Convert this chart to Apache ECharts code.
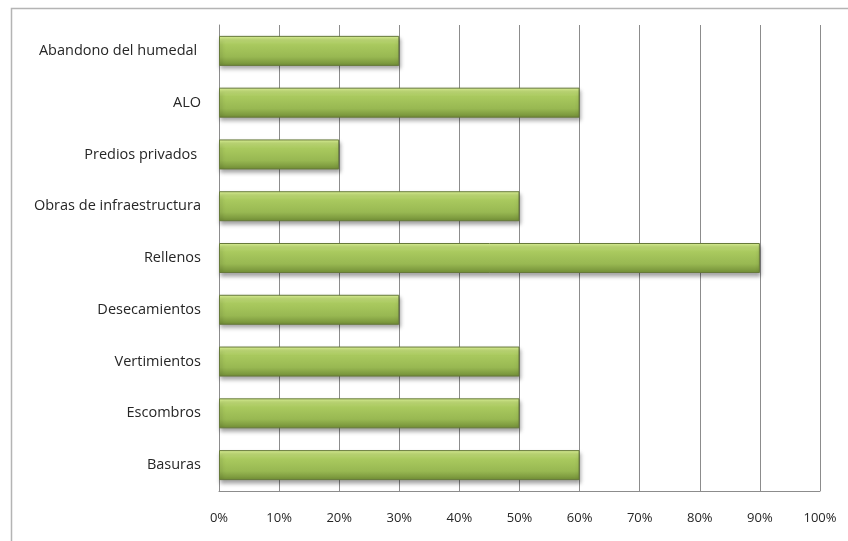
<!DOCTYPE html>
<html>
<head>
<meta charset="utf-8">
<script src="https://cdn.jsdelivr.net/npm/echarts@6/dist/echarts.min.js"></script>
<style>
  html, body { margin: 0; padding: 0; background: #fff; }
  #chart { width: 848px; height: 541px; }
</style>
</head>
<body>
<div id="chart"></div>
<script>
// Causes of wetland deterioration, share of responses (%)
const categories = [
  'Abandono del humedal ',
  'ALO',
  'Predios privados ',
  'Obras de infraestructura',
  'Rellenos',
  'Desecamientos',
  'Vertimientos',
  'Escombros',
  'Basuras'
];
const values = [30, 60, 20, 50, 90, 30, 50, 50, 60];
const axisMin = 0;
const axisMax = 100;
const axisStep = 10;

const chart = echarts.init(document.getElementById('chart'), null, { renderer: 'canvas' });

const barFill = new echarts.graphic.LinearGradient(0, 0, 0, 1, [
  { offset: 0, color: '#e2f79c' },
  { offset: 0.12, color: '#c4e07a' },
  { offset: 0.3, color: '#a9c95e' },
  { offset: 0.7, color: '#98b852' },
  { offset: 1, color: '#718d36' }
]);

chart.setOption({
  animation: false,
  backgroundColor: '#ffffff',
  graphic: [{
    type: 'rect',
    shape: { x: 11.5, y: 8.5, width: 900, height: 600 },
    style: { fill: 'none', stroke: '#b4b4b4', lineWidth: 1.5 },
    silent: true,
    z: -1
  }],
  grid: { left: 219, right: 28, top: 25, bottom: 50 },
  xAxis: {
    type: 'value',
    min: axisMin,
    max: axisMax,
    interval: axisStep,
    axisLine: { show: true, lineStyle: { color: '#8c8c8c', width: 1 } },
    axisTick: { show: false },
    splitLine: { show: true, lineStyle: { color: '#8c8c8c', width: 1 } },
    axisLabel: {
      formatter: '{value}%',
      margin: 21,
      color: '#262626',
      fontFamily: 'Open Sans',
      fontSize: 13
    }
  },
  yAxis: {
    type: 'category',
    data: categories,
    inverse: true,
    axisLine: { show: true, lineStyle: { color: '#8c8c8c', width: 1 } },
    axisTick: { show: false },
    axisLabel: {
      margin: 18,
      color: '#262626',
      fontFamily: 'Open Sans',
      fontSize: 14.5
    }
  },
  series: [{
    type: 'bar',
    data: values,
    barWidth: 30,
    itemStyle: {
      color: barFill,
      borderColor: '#66793a',
      borderWidth: 1,
      shadowColor: 'rgba(0,0,0,0.35)',
      shadowBlur: 4,
      shadowOffsetX: 1,
      shadowOffsetY: 3
    }
  }]
});
</script>
</body>
</html>
